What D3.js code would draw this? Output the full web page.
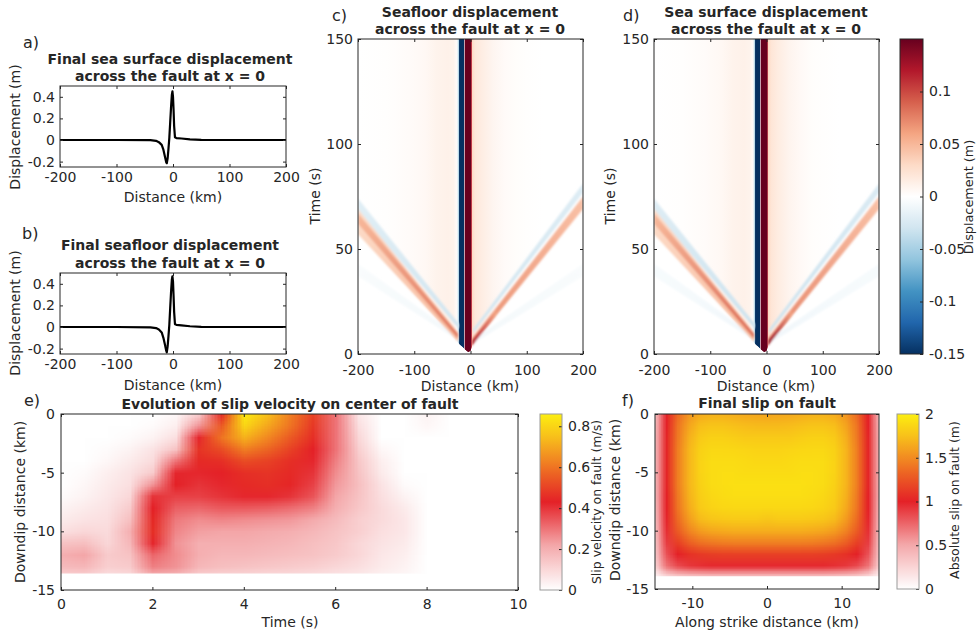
<!DOCTYPE html>
<html>
<head>
<meta charset="utf-8">
<script src="https://cdn.jsdelivr.net/npm/d3@7"></script>
<style>
body { margin: 0; background: #fff; }
text { font-family: "DejaVu Sans", sans-serif; fill: #262626; }
</style>
</head>
<body>
<svg width="977" height="637"></svg>
<script>
// ---- panels a, b : final displacement profiles across the fault
const profileX = [-200, -100, -40, -30, -25, -20, -17, -14, -12, -11, -9.5, -8, -6.5, -5, -3.5, -2, -1, 0, 1, 2, 3.5, 6, 15, 30, 50, 100, 200];
const seaSurfaceDisp = [0, 0, -0.002, -0.008, -0.02, -0.045, -0.09, -0.16, -0.205, -0.215, -0.17, -0.08, 0.02, 0.16, 0.3, 0.42, 0.45, 0.4, 0.28, 0.13, 0.025, 0.018, 0.014, 0.006, 0.002, 0, 0];
const seafloorDisp = [0, 0, -0.003, -0.01, -0.022, -0.05, -0.1, -0.17, -0.22, -0.235, -0.18, -0.085, 0.02, 0.17, 0.32, 0.44, 0.47, 0.42, 0.29, 0.14, 0.025, 0.02, 0.015, 0.007, 0.002, 0, 0];

// ---- panels c, d : displacement after the wave front has passed (distance columns)
const heatX = [-200, -150, -110, -80, -60, -40, -30, -25, -22, -21, -19.5, -17, -13, -12, -11, -10, -9, -4, 0, 1.5, 3, 8, 20, 40, 60, 80, 100, 130, 160, 200];
const seafloorHeat = [0, 0.001, 0.003, 0.006, 0.01, 0.012, 0.01, 0.004, -0.02, -0.05, -0.16, -0.2, -0.2, -0.16, -0.03, 0.12, 0.2, 0.4, 0.3, 0.12, 0.03, 0.02, 0.015, 0.008, 0.004, 0.002, 0.001, 0, 0, 0];
const seaHeat = [0, 0.001, 0.003, 0.006, 0.01, 0.012, 0.01, 0.004, -0.02, -0.05, -0.16, -0.2, -0.2, -0.16, -0.03, 0.12, 0.2, 0.4, 0.32, 0.13, 0.032, 0.022, 0.016, 0.009, 0.005, 0.002, 0.001, 0, 0, 0];
// arrival time of the wave front
const frontX = [-200, -24, -19, -14, -9, -4, 0, 3, 200];
const frontT = [58, 6, 4.5, 3.5, 2, 1, 1.5, 4, 69];
// rays: [x0, t0, x1, t1, half width at start (s), half width at end (s), displacement at start, at end]
const raysSeafloor = [
  [-25, 8, -200, 40, 1, 3, -0.008, -0.004],
  [5, 6, 200, 40, 1, 3, -0.008, -0.004],
  [-20, 13, -200, 71, 1.2, 3, -0.03, -0.02],
  [5, 11, 200, 79, 1, 2.2, -0.03, -0.022],
  [-22, 8, -200, 63, 2, 6, 0.05, 0.03],
  [-22, 8.5, -200, 64.5, 1, 2.5, 0.08, 0.05],
  [2, 5.5, 200, 72, 1.5, 3, 0.07, 0.045],
  [2, 5, 45, 19.5, 1.2, 1.4, 0.12, 0.06]
];
const raysSea = [
  [-25, 8, -200, 40, 1, 3, -0.009, -0.005],
  [5, 6, 200, 40, 1, 3, -0.009, -0.005],
  [-20, 13, -200, 71, 1.2, 3, -0.032, -0.022],
  [5, 11, 200, 79, 1, 2.2, -0.032, -0.024],
  [-22, 8, -200, 63, 2, 6, 0.05, 0.03],
  [-22, 8.5, -200, 64.5, 1, 2.5, 0.085, 0.05],
  [2, 5.5, 200, 72, 1.5, 3, 0.075, 0.045],
  [2, 5, 45, 19.5, 1.2, 1.4, 0.13, 0.06]
];

// ---- panel e : slip velocity (m/s), rows = depth, columns = time
const slipTime = [0, 0.5, 1, 1.5, 2, 2.5, 3, 3.5, 4, 4.5, 5, 5.5, 6, 6.5, 7, 7.5, 8, 8.5, 9, 9.5, 10];
const slipDepth = [0, -1, -2, -3, -4, -5, -6, -7, -8, -9, -10, -11, -12, -13, -14, -15];
const slipVelocity = [
  [0, 0, 0, 0, 0, 0.02, 0.12, 0.45, 0.85, 0.75, 0.62, 0.5, 0.3, 0.06, 0, 0, 0.03, 0, 0, 0, 0],
  [0, 0, 0, 0, 0.01, 0.04, 0.25, 0.55, 0.8, 0.7, 0.6, 0.48, 0.3, 0.08, 0, 0, 0.02, 0, 0, 0, 0],
  [0, 0, 0, 0.01, 0.03, 0.08, 0.42, 0.6, 0.72, 0.64, 0.55, 0.46, 0.3, 0.1, 0, 0, 0, 0, 0, 0, 0],
  [0, 0, 0.01, 0.03, 0.07, 0.15, 0.47, 0.52, 0.62, 0.57, 0.5, 0.43, 0.3, 0.12, 0.02, 0, 0, 0, 0, 0, 0],
  [0, 0, 0.02, 0.05, 0.09, 0.3, 0.45, 0.46, 0.52, 0.5, 0.46, 0.42, 0.28, 0.14, 0.04, 0, 0, 0, 0, 0, 0],
  [0, 0.01, 0.04, 0.07, 0.13, 0.42, 0.42, 0.43, 0.46, 0.47, 0.45, 0.4, 0.26, 0.15, 0.05, 0, 0, 0, 0, 0, 0],
  [0, 0.02, 0.05, 0.08, 0.25, 0.43, 0.4, 0.42, 0.45, 0.46, 0.44, 0.38, 0.24, 0.16, 0.07, 0.01, 0, 0, 0, 0, 0],
  [0.01, 0.03, 0.06, 0.1, 0.4, 0.38, 0.38, 0.4, 0.42, 0.42, 0.4, 0.35, 0.22, 0.15, 0.08, 0.03, 0, 0, 0, 0, 0],
  [0.03, 0.05, 0.07, 0.13, 0.43, 0.33, 0.32, 0.34, 0.34, 0.33, 0.31, 0.28, 0.2, 0.14, 0.09, 0.05, 0, 0, 0, 0, 0],
  [0.05, 0.07, 0.08, 0.16, 0.45, 0.29, 0.26, 0.27, 0.26, 0.25, 0.24, 0.21, 0.17, 0.12, 0.09, 0.06, 0, 0, 0, 0, 0],
  [0.08, 0.1, 0.09, 0.2, 0.46, 0.27, 0.23, 0.22, 0.22, 0.21, 0.2, 0.18, 0.15, 0.12, 0.08, 0.06, 0, 0, 0, 0, 0],
  [0.15, 0.16, 0.1, 0.18, 0.42, 0.25, 0.2, 0.2, 0.2, 0.19, 0.18, 0.16, 0.14, 0.1, 0.07, 0.05, 0, 0, 0, 0, 0],
  [0.2, 0.22, 0.13, 0.15, 0.32, 0.26, 0.2, 0.18, 0.18, 0.17, 0.16, 0.15, 0.13, 0.1, 0.06, 0.04, 0, 0, 0, 0, 0],
  [0.17, 0.18, 0.12, 0.13, 0.28, 0.25, 0.18, 0.16, 0.15, 0.14, 0.13, 0.12, 0.1, 0.08, 0.05, 0.03, 0, 0, 0, 0, 0],
  [0.1, 0.1, 0.07, 0.08, 0.15, 0.15, 0.1, 0.09, 0.09, 0.08, 0.08, 0.07, 0.06, 0.05, 0.03, 0.02, 0, 0, 0, 0, 0],
  [0, 0, 0, 0, 0, 0, 0, 0, 0, 0, 0, 0, 0, 0, 0, 0, 0, 0, 0, 0, 0]
];
const slipRuptureBottom = -13.6;

// ---- panel f : final slip (m), rows = depth, columns = along strike
const strikeX = [-15, -13.5, -12, -10.5, -9, -7.5, -6, -4.5, -3, -1.5, 0, 1.5, 3, 4.5, 6, 7.5, 9, 10.5, 12, 13.5, 15];
const finalSlip = [
  [0.35, 1.00, 1.35, 1.55, 1.65, 1.68, 1.68, 1.66, 1.64, 1.63, 1.62, 1.63, 1.64, 1.66, 1.68, 1.68, 1.65, 1.55, 1.35, 1.00, 0.35],
  [0.38, 1.00, 1.40, 1.62, 1.74, 1.77, 1.77, 1.75, 1.73, 1.72, 1.72, 1.72, 1.73, 1.75, 1.77, 1.77, 1.74, 1.62, 1.40, 1.00, 0.38],
  [0.40, 1.02, 1.42, 1.67, 1.80, 1.84, 1.84, 1.82, 1.80, 1.80, 1.80, 1.80, 1.80, 1.82, 1.84, 1.84, 1.80, 1.67, 1.42, 1.02, 0.40],
  [0.40, 1.02, 1.44, 1.70, 1.84, 1.88, 1.88, 1.87, 1.86, 1.85, 1.85, 1.85, 1.86, 1.87, 1.88, 1.88, 1.84, 1.70, 1.44, 1.02, 0.40],
  [0.40, 1.02, 1.44, 1.70, 1.85, 1.90, 1.90, 1.90, 1.89, 1.88, 1.88, 1.88, 1.89, 1.90, 1.90, 1.90, 1.85, 1.70, 1.44, 1.02, 0.40],
  [0.40, 1.02, 1.44, 1.70, 1.85, 1.90, 1.91, 1.91, 1.90, 1.90, 1.90, 1.90, 1.90, 1.91, 1.91, 1.90, 1.85, 1.70, 1.44, 1.02, 0.40],
  [0.40, 1.02, 1.44, 1.70, 1.84, 1.90, 1.91, 1.92, 1.92, 1.92, 1.92, 1.92, 1.92, 1.92, 1.91, 1.90, 1.84, 1.70, 1.44, 1.02, 0.40],
  [0.40, 1.00, 1.42, 1.68, 1.82, 1.88, 1.90, 1.91, 1.91, 1.91, 1.91, 1.91, 1.91, 1.91, 1.90, 1.88, 1.82, 1.68, 1.42, 1.00, 0.40],
  [0.38, 1.00, 1.40, 1.65, 1.80, 1.85, 1.87, 1.88, 1.88, 1.88, 1.88, 1.88, 1.88, 1.88, 1.87, 1.85, 1.80, 1.65, 1.40, 1.00, 0.38],
  [0.36, 0.98, 1.35, 1.58, 1.72, 1.77, 1.79, 1.80, 1.80, 1.80, 1.78, 1.80, 1.80, 1.80, 1.79, 1.77, 1.72, 1.58, 1.35, 0.98, 0.36],
  [0.34, 0.95, 1.28, 1.47, 1.58, 1.63, 1.65, 1.66, 1.66, 1.66, 1.66, 1.66, 1.66, 1.66, 1.65, 1.63, 1.58, 1.47, 1.28, 0.95, 0.34],
  [0.32, 0.90, 1.15, 1.30, 1.38, 1.42, 1.44, 1.45, 1.45, 1.45, 1.45, 1.45, 1.45, 1.45, 1.44, 1.42, 1.38, 1.30, 1.15, 0.90, 0.32],
  [0.30, 0.82, 1.00, 1.08, 1.12, 1.14, 1.15, 1.15, 1.15, 1.15, 1.15, 1.15, 1.15, 1.15, 1.15, 1.14, 1.12, 1.08, 1.00, 0.82, 0.30],
  [0.25, 0.70, 0.85, 0.92, 0.95, 0.97, 0.97, 0.97, 0.97, 0.97, 0.97, 0.97, 0.97, 0.97, 0.97, 0.97, 0.95, 0.92, 0.85, 0.70, 0.25],
  [0.05, 0.15, 0.20, 0.22, 0.24, 0.25, 0.25, 0.25, 0.25, 0.25, 0.25, 0.25, 0.25, 0.25, 0.25, 0.25, 0.24, 0.22, 0.20, 0.15, 0.05],
  [0, 0, 0, 0, 0, 0, 0, 0, 0, 0, 0, 0, 0, 0, 0, 0, 0, 0, 0, 0, 0]
];
const slipFaultBottom = -13.9;

// ---------------------------------------------------------------------------
var svg = d3.select("svg");
var defs = svg.append("defs");
svg.append("rect").attr("width", 977).attr("height", 637).attr("fill", "#fff");

var fmt = function (d) { return String(d); };
var ink = "#262626";
var fs = 14;

var divColor = d3.scaleLinear()
  .domain([-0.15, -0.12, -0.09, -0.06, -0.03, 0, 0.03, 0.06, 0.09, 0.12, 0.15])
  .range(["#053061", "#2166ac", "#4393c3", "#92c5de", "#d1e5f0", "#ffffff", "#fddbc7", "#f4a582", "#d6604d", "#b2182b", "#67001f"])
  .clamp(true);
var hotFrac = d3.scaleLinear()
  .domain([0, 0.25, 0.5, 0.625, 0.75, 0.875, 1])
  .range(["#ffffff", "#f4a9ab", "#e42127", "#ea5424", "#f28b22", "#f8c11a", "#fcee10"])
  .clamp(true);

defs.append("filter").attr("id", "soft").attr("x", "-10%").attr("y", "-10%").attr("width", "120%").attr("height", "120%")
  .append("feGaussianBlur").attr("stdDeviation", 1.3);

function axesBox(g, x, y, xt, yt, xpad, ypad) {
  var xr = x.range(), yr = y.range();
  var a1 = g.append("g").attr("transform", "translate(0," + yr[0] + ")")
    .call(d3.axisBottom(x).tickValues(xt).tickFormat(fmt).tickSize(-3).tickPadding(xpad));
  var a2 = g.append("g").attr("transform", "translate(0," + yr[1] + ")")
    .call(d3.axisTop(x).tickValues(xt).tickFormat(function () { return ""; }).tickSize(-3));
  var a3 = g.append("g").attr("transform", "translate(" + xr[0] + ",0)")
    .call(d3.axisLeft(y).tickValues(yt).tickFormat(fmt).tickSize(-3).tickPadding(ypad));
  var a4 = g.append("g").attr("transform", "translate(" + xr[1] + ",0)")
    .call(d3.axisRight(y).tickValues(yt).tickFormat(function () { return ""; }).tickSize(-3));
  [a1, a2, a3, a4].forEach(function (a) {
    a.select(".domain").remove();
    a.attr("font-family", null).attr("font-size", fs);
    a.selectAll("line").attr("stroke", ink);
    a.selectAll("text").attr("fill", ink);
  });
  g.append("rect")
    .attr("x", xr[0]).attr("y", yr[1])
    .attr("width", xr[1] - xr[0]).attr("height", yr[0] - yr[1])
    .attr("fill", "none").attr("stroke", ink).attr("stroke-width", 1);
}

function label(txt, x, y, opt) {
  opt = opt || {};
  return svg.append("text")
    .attr("transform", "translate(" + x + "," + y + ")" + (opt.rot ? " rotate(-90)" : ""))
    .attr("text-anchor", opt.anchor || "middle")
    .attr("dy", "0.35em")
    .attr("font-size", opt.size || fs)
    .attr("font-weight", opt.bold ? "bold" : "normal")
    .text(txt);
}

function clipFor(id, x0, y0, w, h) {
  defs.append("clipPath").attr("id", id).append("rect")
    .attr("x", x0).attr("y", y0).attr("width", w).attr("height", h);
  return "url(#" + id + ")";
}

// ---- line panels
function linePanel(box, values) {
  var x = d3.scaleLinear().domain([-200, 200]).range([box.x0, box.x1]);
  var y = d3.scaleLinear().domain([-0.25, 0.5]).range([box.y1, box.y0]);
  var g = svg.append("g");
  g.append("path")
    .datum(profileX.map(function (d, i) { return [d, values[i]]; }))
    .attr("d", d3.line().x(function (d) { return x(d[0]); }).y(function (d) { return y(d[1]); }))
    .attr("fill", "none").attr("stroke", "#000").attr("stroke-width", 2.2).attr("stroke-linejoin", "round");
  axesBox(g, x, y, [-200, -100, 0, 100, 200], [-0.2, 0, 0.2, 0.4], 5, 5);
}

// ---- wave panels
function wavePanel(box, heat, rays, id) {
  var x = d3.scaleLinear().domain([-200, 200]).range([box.x0, box.x1]);
  var y = d3.scaleLinear().domain([0, 150]).range([box.y1, box.y0]);
  var g = svg.append("g");
  var inner = g.append("g").attr("clip-path", clipFor(id + "clip", box.x0, box.y0, box.x1 - box.x0, box.y1 - box.y0));

  var grad = defs.append("linearGradient").attr("id", id + "grad")
    .attr("gradientUnits", "userSpaceOnUse")
    .attr("x1", x(-200)).attr("x2", x(200)).attr("y1", 0).attr("y2", 0);
  heatX.forEach(function (d, i) {
    grad.append("stop").attr("offset", (x(d) - x(-200)) / (x(200) - x(-200))).attr("stop-color", divColor(heat[i]));
  });
  var front = frontX.map(function (d, i) { return [d, frontT[i]]; });
  var area = d3.area().x(function (d) { return x(d[0]); }).y0(y(150) - 2).y1(function (d) { return y(d[1]); });
  inner.append("path").datum(front).attr("d", area).attr("fill", "url(#" + id + "grad)");

  var rayLayer = inner.append("g").attr("filter", "url(#soft)");
  rays.forEach(function (r, k) {
    var rg = defs.append("linearGradient").attr("id", id + "ray" + k)
      .attr("gradientUnits", "userSpaceOnUse")
      .attr("x1", x(r[0])).attr("y1", y(r[1])).attr("x2", x(r[2])).attr("y2", y(r[3]));
    rg.append("stop").attr("offset", 0).attr("stop-color", divColor(r[6]));
    rg.append("stop").attr("offset", 1).attr("stop-color", divColor(r[7]));
    var pts = [[r[0], r[1] - r[4]], [r[2], r[3] - r[5]], [r[2], r[3] + r[5]], [r[0], r[1] + r[4]]];
    rayLayer.append("path")
      .attr("d", d3.line().x(function (d) { return x(d[0]); }).y(function (d) { return y(d[1]); })(pts) + "Z")
      .attr("fill", "url(#" + id + "ray" + k + ")");
  });
  // the fault columns stay on top of the rays near the apex
  inner.append("path")
    .datum(front.filter(function (d) { return d[0] > -20 && d[0] < 4; }))
    .attr("d", area)
    .attr("fill", "url(#" + id + "grad)");

  axesBox(g, x, y, [-200, -100, 0, 100, 200], [0, 50, 100, 150], 11, 5);
}

// ---- gridded heat panels
function gridPanel(box, xs, ys, grid, color, bottomDepth, id) {
  var g = svg.append("g");
  var nx = xs.length, ny = ys.length;
  var cv = document.createElement("canvas");
  cv.width = nx; cv.height = ny;
  var ctx = cv.getContext("2d");
  var img = ctx.createImageData(nx, ny);
  grid.forEach(function (row, j) {
    row.forEach(function (v, i) {
      var c = d3.rgb(color(v));
      var k = 4 * (j * nx + i);
      img.data[k] = c.r; img.data[k + 1] = c.g; img.data[k + 2] = c.b; img.data[k + 3] = 255;
    });
  });
  ctx.putImageData(img, 0, 0);
  var dx = xs[1] - xs[0], dy = ys[1] - ys[0];
  var xa = box.x(xs[0] - dx / 2), xb = box.x(xs[nx - 1] + dx / 2);
  var ya = box.y(ys[0] - dy / 2), yb = box.y(ys[ny - 1] + dy / 2);
  var yBottom = box.y(bottomDepth);
  g.append("image")
    .attr("href", cv.toDataURL())
    .attr("x", xa).attr("y", ya).attr("width", xb - xa).attr("height", yb - ya)
    .attr("preserveAspectRatio", "none")
    .attr("clip-path", clipFor(id + "clip", box.x.range()[0], box.y.range()[1], box.x.range()[1] - box.x.range()[0], yBottom - box.y.range()[1]));
  return g;
}

function colorbar(x0, x1, y0, y1, color, domain, ticks, id, outline) {
  var y = d3.scaleLinear().domain(domain).range([y1, y0]);
  var grad = defs.append("linearGradient").attr("id", id).attr("x1", 0).attr("x2", 0).attr("y1", 1).attr("y2", 0);
  d3.range(0, 1.0001, 0.02).forEach(function (f) {
    grad.append("stop").attr("offset", f).attr("stop-color", color(domain[0] + f * (domain[1] - domain[0])));
  });
  var g = svg.append("g");
  g.append("rect").attr("x", x0).attr("y", y0).attr("width", x1 - x0).attr("height", y1 - y0).attr("fill", "url(#" + id + ")");
  var a = g.append("g").attr("transform", "translate(" + x1 + ",0)")
    .call(d3.axisRight(y).tickValues(ticks).tickFormat(fmt).tickSize(-3).tickPadding(6));
  a.select(".domain").remove();
  a.attr("font-family", null).attr("font-size", fs);
  a.selectAll("line").attr("stroke", ink);
  a.selectAll("text").attr("fill", ink);
  g.append("rect").attr("x", x0).attr("y", y0).attr("width", x1 - x0).attr("height", y1 - y0)
    .attr("fill", "none").attr("stroke", outline).attr("stroke-width", 1);
}

// ================= a) b)
linePanel({ x0: 60, x1: 286, y0: 86, y1: 167 }, seaSurfaceDisp);
linePanel({ x0: 60, x1: 286, y0: 273, y1: 354 }, seafloorDisp);
label("a)", 23, 42, { anchor: "start", size: 16 });
label("Final sea surface displacement", 170, 59, { bold: true });
label("across the fault at x = 0", 170, 76, { bold: true });
label("Displacement (m)", 15, 127, { rot: true });
label("Distance (km)", 173, 197);
label("b)", 22, 233, { anchor: "start", size: 16 });
label("Final seafloor displacement", 170, 245, { bold: true });
label("across the fault at x = 0", 170, 263, { bold: true });
label("Displacement (m)", 15, 313, { rot: true });
label("Distance (km)", 173, 385);

// ================= c) d)
wavePanel({ x0: 358, x1: 583, y0: 39, y1: 354 }, seafloorHeat, raysSeafloor, "wc");
wavePanel({ x0: 654, x1: 879, y0: 39, y1: 354 }, seaHeat, raysSea, "wd");
label("c)", 332, 15, { anchor: "start", size: 16 });
label("Seafloor displacement", 470, 12, { bold: true });
label("across the fault at x = 0", 470, 29, { bold: true });
label("Time (s)", 315, 196, { rot: true });
label("Distance (km)", 470, 386);
label("d)", 623, 15, { anchor: "start", size: 16 });
label("Sea surface displacement", 766, 12, { bold: true });
label("across the fault at x = 0", 766, 29, { bold: true });
label("Time (s)", 610, 196, { rot: true });
label("Distance (km)", 766, 386);
colorbar(900, 923, 39, 354, divColor, [-0.15, 0.15], [-0.15, -0.1, -0.05, 0, 0.05, 0.1], "cbd", ink);
label("Displacement (m)", 969, 197, { rot: true, size: 12.8 });

// ================= e)
var ex = d3.scaleLinear().domain([0, 10]).range([61, 518]);
var ey = d3.scaleLinear().domain([-15, 0]).range([590, 414]);
var velMax = 0.86;
var velColor = function (v) { return hotFrac(v / velMax); };
var ge = gridPanel({ x: ex, y: ey }, slipTime, slipDepth, slipVelocity, velColor, slipRuptureBottom, "ge");
axesBox(ge, ex, ey, [0, 2, 4, 6, 8, 10], [-15, -10, -5, 0], 9, 6);
colorbar(540, 562, 414, 590, velColor, [0, velMax], [0, 0.2, 0.4, 0.6, 0.8], "cbe", "#9a9a9a");
label("e)", 24, 400, { anchor: "start", size: 16 });
label("Evolution of slip velocity on center of fault", 290, 404, { bold: true });
label("Downdip distance (km)", 20, 502, { rot: true });
label("Time (s)", 290, 622);
label("Slip velocity on fault (m/s)", 597, 502, { rot: true, size: 12.5 });

// ================= f)
var fx = d3.scaleLinear().domain([-15, 15]).range([655, 879]);
var fy = d3.scaleLinear().domain([-15, 0]).range([589, 414]);
var slipColor = function (v) { return hotFrac(v / 2); };
var gf = gridPanel({ x: fx, y: fy }, strikeX, slipDepth, finalSlip, slipColor, slipFaultBottom, "gf");
axesBox(gf, fx, fy, [-10, 0, 10], [-15, -10, -5, 0], 9, 6);
colorbar(897, 919, 414, 589, slipColor, [0, 2], [0, 0.5, 1, 1.5, 2], "cbf", "#9a9a9a");
label("f)", 622, 400, { anchor: "start", size: 16 });
label("Final slip on fault", 767, 403, { bold: true });
label("Downdip distance (km)", 615, 500, { rot: true });
label("Along strike distance (km)", 767, 622);
label("Absolute slip on fault (m)", 955, 500, { rot: true, size: 12.5 });
</script>
</body>
</html>
